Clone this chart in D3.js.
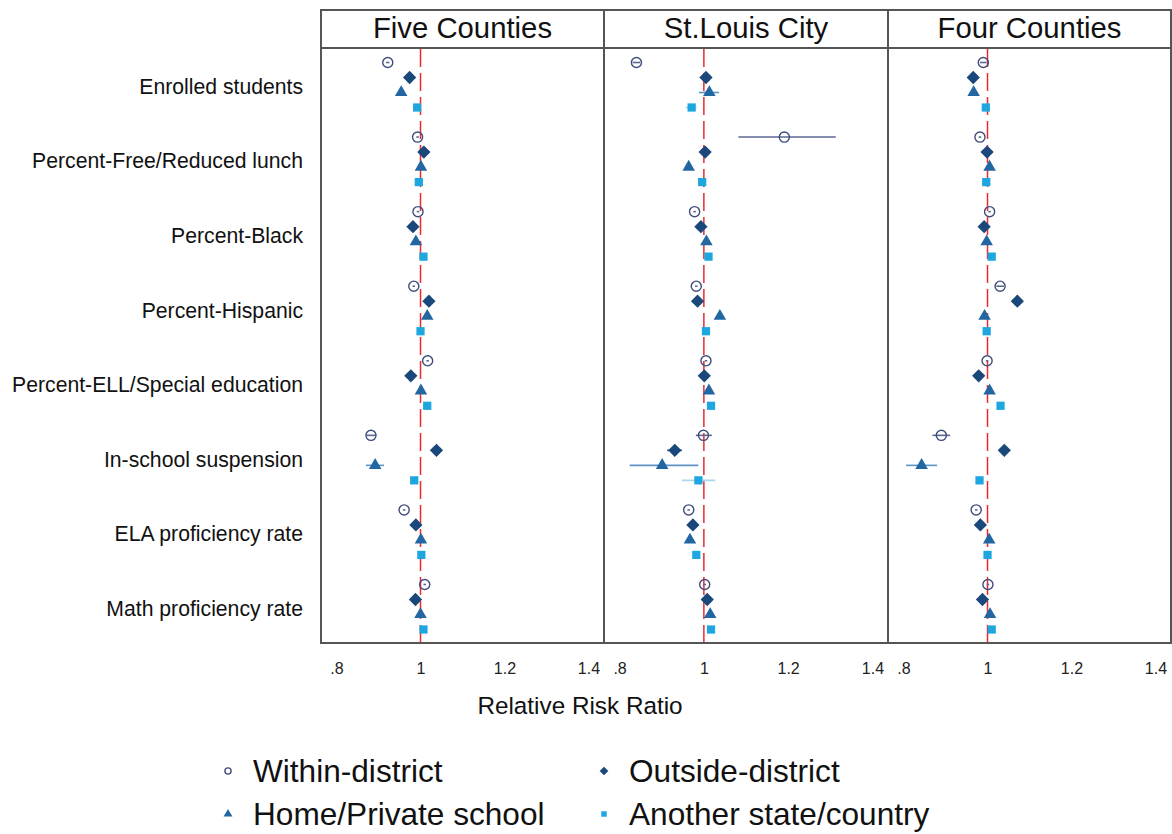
<!DOCTYPE html>
<html>
<head>
<meta charset="utf-8">
<script src="https://cdn.jsdelivr.net/npm/d3@7"></script>
<style>
  html, body { margin: 0; padding: 0; background: #fff; }
  svg { display: block; font-family: "Liberation Sans", Arial, sans-serif; }
</style>
</head>
<body>
<svg id="chart" width="1172" height="834"></svg>
<script>
// Outcome rows, panels and legend entries
const categories = [
  "Enrolled students",
  "Percent-Free/Reduced lunch",
  "Percent-Black",
  "Percent-Hispanic",
  "Percent-ELL/Special education",
  "In-school suspension",
  "ELA proficiency rate",
  "Math proficiency rate"
];
const panelNames = ["Five Counties", "St.Louis City", "Four Counties"];
const seriesNames = ["Within-district", "Outside-district", "Home/Private school", "Another state/country"];
const xTicks = [0.8, 1, 1.2, 1.4];
const axisTitle = "Relative Risk Ratio";

// Five Counties: relative risk ratios with 95% intervals
const fiveWithin    = [0.922, 0.993, 0.994, 0.984, 1.017, 0.882, 0.961, 1.010];
const fiveWithinLo  = [0.918, 0.990, 0.991, 0.981, 1.014, 0.871, 0.958, 1.007];
const fiveWithinHi  = [0.926, 0.996, 0.997, 0.987, 1.020, 0.893, 0.964, 1.013];
const fiveOutside   = [0.974, 1.008, 0.982, 1.020, 0.977, 1.038, 0.989, 0.988];
const fiveOutsideLo = [0.970, 1.004, 0.978, 1.016, 0.973, 1.033, 0.985, 0.984];
const fiveOutsideHi = [0.978, 1.012, 0.986, 1.024, 0.981, 1.043, 0.993, 0.992];
const fiveHome      = [0.954, 1.001, 0.989, 1.016, 1.001, 0.892, 1.001, 1.000];
const fiveHomeLo    = [0.949, 0.997, 0.985, 1.012, 0.997, 0.870, 0.997, 0.996];
const fiveHomeHi    = [0.959, 1.005, 0.993, 1.020, 1.005, 0.913, 1.005, 1.004];
const fiveAnother   = [0.992, 0.996, 1.007, 1.000, 1.016, 0.985, 1.002, 1.007];
const fiveAnotherLo = [0.989, 0.993, 1.004, 0.997, 1.013, 0.981, 0.999, 1.004];
const fiveAnotherHi = [0.995, 0.999, 1.010, 1.003, 1.019, 0.989, 1.005, 1.010];

// St. Louis City
const cityWithin    = [0.840, 1.191, 0.978, 0.982, 1.005, 0.999, 0.964, 1.002];
const cityWithinLo  = [0.831, 1.082, 0.975, 0.979, 1.002, 0.981, 0.961, 0.999];
const cityWithinHi  = [0.849, 1.313, 0.981, 0.985, 1.008, 1.019, 0.967, 1.005];
const cityOutside   = [1.005, 1.003, 0.993, 0.985, 1.001, 0.931, 0.974, 1.008];
const cityOutsideLo = [1.001, 0.999, 0.989, 0.981, 0.997, 0.913, 0.970, 1.004];
const cityOutsideHi = [1.009, 1.007, 0.997, 0.989, 1.005, 0.948, 0.978, 1.012];
const cityHome      = [1.013, 0.964, 1.006, 1.038, 1.012, 0.901, 0.967, 1.015];
const cityHomeLo    = [0.988, 0.960, 1.002, 1.034, 1.008, 0.824, 0.963, 1.011];
const cityHomeHi    = [1.036, 0.968, 1.010, 1.042, 1.016, 0.987, 0.971, 1.019];
const cityAnother   = [0.971, 0.996, 1.011, 1.005, 1.017, 0.987, 0.982, 1.017];
const cityAnotherLo = [0.957, 0.993, 1.008, 1.002, 1.014, 0.948, 0.979, 1.014];
const cityAnotherHi = [0.983, 0.999, 1.014, 1.008, 1.020, 1.027, 0.985, 1.020];

// Four Counties
const fourWithin    = [0.990, 0.982, 1.005, 1.030, 0.999, 0.890, 0.973, 1.001];
const fourWithinLo  = [0.982, 0.979, 1.002, 1.021, 0.996, 0.869, 0.970, 0.998];
const fourWithinHi  = [0.998, 0.985, 1.008, 1.039, 1.002, 0.911, 0.976, 1.004];
const fourOutside   = [0.966, 0.999, 0.992, 1.071, 0.979, 1.040, 0.983, 0.988];
const fourOutsideLo = [0.962, 0.995, 0.988, 1.067, 0.975, 1.036, 0.979, 0.984];
const fourOutsideHi = [0.970, 1.003, 0.996, 1.075, 0.983, 1.044, 0.987, 0.992];
const fourHome      = [0.967, 1.005, 0.998, 0.993, 1.005, 0.843, 1.004, 1.006];
const fourHomeLo    = [0.963, 1.001, 0.994, 0.989, 1.001, 0.806, 1.000, 1.002];
const fourHomeHi    = [0.971, 1.009, 1.002, 0.997, 1.009, 0.880, 1.008, 1.010];
const fourAnother   = [0.996, 0.997, 1.010, 0.998, 1.031, 0.981, 1.000, 1.010];
const fourAnotherLo = [0.993, 0.994, 1.007, 0.995, 1.028, 0.978, 0.997, 1.007];
const fourAnotherHi = [0.999, 1.000, 1.013, 1.001, 1.034, 0.984, 1.003, 1.013];

const panelData = [
  [[fiveWithin, fiveWithinLo, fiveWithinHi], [fiveOutside, fiveOutsideLo, fiveOutsideHi],
   [fiveHome, fiveHomeLo, fiveHomeHi], [fiveAnother, fiveAnotherLo, fiveAnotherHi]],
  [[cityWithin, cityWithinLo, cityWithinHi], [cityOutside, cityOutsideLo, cityOutsideHi],
   [cityHome, cityHomeLo, cityHomeHi], [cityAnother, cityAnotherLo, cityAnotherHi]],
  [[fourWithin, fourWithinLo, fourWithinHi], [fourOutside, fourOutsideLo, fourOutsideHi],
   [fourHome, fourHomeLo, fourHomeHi], [fourAnother, fourAnotherLo, fourAnotherHi]]
];

// ---- layout ----
const svg = d3.select("#chart");
const panelX = [[321, 604], [604, 888], [888, 1171]];
const frameTop = 10, headerBottom = 48, plotBottom = 643;
const frameColor = "#555";

const y = d3.scalePoint().domain(categories).range([85, 607]);
const rowOffset = [-22.5, -7.5, 7.5, 22.5];

const markerStyle = [
  { shape: d3.symbolCircle,   size: 80, fill: "none",    stroke: "#3f4c7c", sw: 1.4, ci: "#5b6890", rot: 0 },
  { shape: d3.symbolSquare,   size: 88, fill: "#1a487a", stroke: "none",    sw: 0,   ci: "#1a487a", rot: 45 },
  { shape: d3.symbolTriangle, size: 68, fill: "#2266a2", stroke: "none",    sw: 0,   ci: "#5f93c4", rot: 0 },
  { shape: d3.symbolSquare,   size: 68, fill: "#1ea6df", stroke: "none",    sw: 0,   ci: "#a9d6ef", rot: 0 }
];

const fmtTick = d => d === 1 ? "1" : String(d).replace(/^0/, "");

panelNames.forEach((name, p) => {
  const [x0, x1] = panelX[p];
  const x = d3.scaleLinear().domain([0.763, 1.437]).range([x0, x1]);
  const g = svg.append("g");

  // header strip
  g.append("rect").attr("x", x0).attr("y", frameTop).attr("width", x1 - x0).attr("height", headerBottom - frameTop)
    .attr("fill", "#fff").attr("stroke", frameColor).attr("stroke-width", 2);
  g.append("text").attr("x", (x0 + x1) / 2).attr("y", 38).attr("text-anchor", "middle")
    .attr("font-size", 29.3).attr("fill", "#111").text(name);

  // plot frame
  g.append("rect").attr("x", x0).attr("y", headerBottom).attr("width", x1 - x0).attr("height", plotBottom - headerBottom)
    .attr("fill", "#fff").attr("stroke", frameColor).attr("stroke-width", 2);

  // reference line at 1
  g.append("line").attr("x1", x(1)).attr("x2", x(1)).attr("y1", headerBottom + 1).attr("y2", plotBottom - 1)
    .attr("stroke", "#ea2a2f").attr("stroke-width", 1.5).attr("stroke-dasharray", "18 6");

  // x axis labels
  const ax = g.append("g").attr("transform", `translate(0,${plotBottom})`)
    .call(d3.axisBottom(x).tickValues(xTicks).tickSize(0).tickPadding(20).tickFormat(fmtTick));
  ax.select(".domain").remove();
  ax.selectAll("text").attr("font-size", 16).attr("fill", "#222")
    .attr("font-family", "'Liberation Sans', Arial, sans-serif");

  // intervals then markers
  panelData[p].forEach((ser, s) => {
    const [est, lo, hi] = ser;
    const st = markerStyle[s];
    const sg = g.append("g");
    sg.selectAll("line.ci").data(categories).join("line").attr("class", "ci")
      .attr("x1", (c, i) => x(lo[i])).attr("x2", (c, i) => x(hi[i]))
      .attr("y1", c => y(c) + rowOffset[s]).attr("y2", c => y(c) + rowOffset[s])
      .attr("stroke", st.ci).attr("stroke-width", 1.6);
    sg.selectAll("path.mk").data(categories).join("path").attr("class", "mk")
      .attr("d", d3.symbol().type(st.shape).size(st.size))
      .attr("transform", (c, i) => `translate(${x(est[i])},${y(c) + rowOffset[s]}) rotate(${st.rot})`)
      .attr("fill", st.fill).attr("stroke", st.stroke).attr("stroke-width", st.sw);
  });
});

// row labels
svg.append("g").selectAll("text").data(categories).join("text")
  .attr("x", 303).attr("y", c => y(c) + 1.5).attr("dy", "0.35em")
  .attr("text-anchor", "end").attr("font-size", 21.2).attr("fill", "#111").text(c => c);

// axis title
svg.append("text").attr("x", 580).attr("y", 714).attr("text-anchor", "middle")
  .attr("font-size", 24.3).attr("fill", "#111").text(axisTitle);

// legend
const legendPos = [[228, 771], [604, 771], [228, 814], [604, 814]];
const legendSize = [30, 38, 34, 30];
const lg = svg.append("g");
seriesNames.forEach((nm, s) => {
  const st = markerStyle[s];
  const [lx, ly] = legendPos[s];
  lg.append("path").attr("d", d3.symbol().type(st.shape).size(legendSize[s]))
    .attr("transform", `translate(${lx},${ly}) rotate(${st.rot})`)
    .attr("fill", st.fill).attr("stroke", st.stroke).attr("stroke-width", st.sw);
  lg.append("text").attr("x", lx + 25).attr("y", ly + 11).attr("font-size", 31.6).attr("fill", "#111").text(nm);
});
</script>
</body>
</html>
